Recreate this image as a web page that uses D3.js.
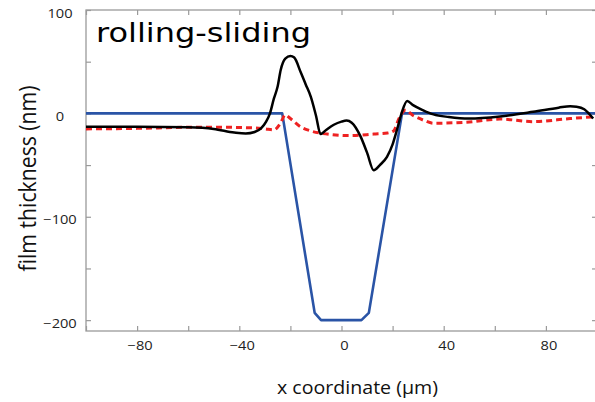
<!DOCTYPE html>
<html><head><meta charset="utf-8">
<script src="https://cdn.jsdelivr.net/npm/d3@7"></script>
<style>body{margin:0;background:#fff}svg{display:block}</style>
</head><body>
<svg id="c" width="595" height="402"></svg>
<script>
// ---- data ----
const blueX = [-100, -23.2, -10.5, -8, 7.8, 10.7, 23.7, 100];
const blueY = [0, 0, -193, -200, -200, -193, 0, 0];

const blackX = [-100, -80, -60, -50, -42, -37.5, -34, -31.5, -29.5, -28, -26.5, -25, -23.8, -22, -20, -18.5, -16, -14, -12, -10, -8.2, -6, -3, 0, 2, 4, 7.4, 10, 12.6, 15, 17.8, 20, 21.7, 23.5, 25.7, 28, 32, 36, 42, 50, 62, 75, 85, 89.5, 92, 95, 98.5];
const blackY = [-13, -13, -13.5, -15, -18.5, -19.5, -18, -14.5, -8, 0, 14, 26, 42, 53, 55.5, 54, 40, 28, 16, -2, -20, -16, -11, -8, -7, -9, -22, -38, -55, -50, -42, -30, -16, 0, 12, 8, 3, -1, -3.5, -5, -3, 1.5, 5.5, 7, 6.5, 4, -5];

const redX = [-100, -80, -60, -45, -35, -30, -26.5, -24, -22, -20, -16, -12, -5.6, 3.5, 12.6, 18, 20.4, 22.5, 25, 28, 32, 36, 49, 62, 75, 89.5, 98.6];
const redY = [-15, -14.5, -13.5, -13.5, -14, -15, -16, -10, -1.5, -5, -13, -17, -20, -21.5, -20, -19, -17, -5, 3, -2, -6.5, -9.5, -8.5, -5.5, -8, -5, -3.3];

const xTicks = [-100, -80, -60, -40, -20, 0, 20, 40, 60, 80, 100];
const xLabels = [-80, -40, 0, 40, 80];
const yTicks = [-200, -150, -100, -50, 0, 50, 100];
const yLabels = [-200, -100, 0, 100];

const title = "rolling-sliding";
const xTitle = "x coordinate (µm)";
const yTitle = "film thickness (nm)";

// ---- chart ----
const svg = d3.select("#c");
const L = 86, R = 597, T = 10, B = 331;
const x = d3.scaleLinear().domain([-100, 100]).range([L, R]);
const y = d3.scaleLinear().domain([-210.5, 100]).range([B, T]);
const fmt = v => (v < 0 ? "\u2212" + Math.abs(v) : String(v));
const axisCol = "#9a9a9a";
const FONT = "Open Sans, sans-serif";

svg.append("defs").append("clipPath").attr("id", "clip")
  .append("rect").attr("x", L).attr("y", T - 2).attr("width", R - L).attr("height", B - T + 4);

// frame
svg.append("rect").attr("x", L).attr("y", T).attr("width", R - L).attr("height", B - T)
  .attr("fill", "none").attr("stroke", axisCol).attr("stroke-width", 1.3);

// axes via d3
const axB = svg.append("g").attr("transform", `translate(0,${B})`)
  .call(d3.axisBottom(x).tickValues(xTicks).tickSize(-5).tickFormat(""));
const axT = svg.append("g").attr("transform", `translate(0,${T})`)
  .call(d3.axisTop(x).tickValues(xTicks).tickSize(-5).tickFormat(""));
const axL = svg.append("g").attr("transform", `translate(${L},0)`)
  .call(d3.axisLeft(y).tickValues(yTicks).tickSize(-5).tickFormat(""));
const axR = svg.append("g").attr("transform", `translate(${R},0)`)
  .call(d3.axisRight(y).tickValues(yTicks).tickSize(-5).tickFormat(""));
[axB, axT, axL, axR].forEach(g => {
  g.select(".domain").remove();
  g.selectAll(".tick line").attr("stroke", axisCol).attr("stroke-width", 1.2);
});

// tick labels (slightly widened like the reference)
svg.append("g").selectAll("text").data(xLabels).join("text")
  .attr("transform", d => `translate(${x(d) + 3},${B + 19}) scale(1.22,1)`)
  .attr("text-anchor", "middle").attr("font-family", FONT)
  .attr("font-size", 12).attr("fill", "#222").text(fmt);
svg.append("g").selectAll("text").data(yLabels).join("text")
  .attr("transform", d => `translate(60,${y(d) + 7.5}) scale(1.22,1)`)
  .attr("text-anchor", "middle").attr("font-family", FONT)
  .attr("font-size", 12).attr("fill", "#222").text(fmt);

// axis titles
svg.append("text").attr("x", 277).attr("y", 393.5)
  .attr("textLength", 161).attr("lengthAdjust", "spacingAndGlyphs")
  .attr("font-family", FONT).attr("font-size", 18).attr("fill", "#111").text(xTitle);
svg.append("text").attr("transform", "translate(36,178.5) rotate(-90) scale(1,1.1)")
  .attr("text-anchor", "middle").attr("textLength", 186).attr("lengthAdjust", "spacingAndGlyphs")
  .attr("font-family", FONT).attr("font-size", 21).attr("fill", "#111").text(yTitle);

// series
const plot = svg.append("g").attr("clip-path", "url(#clip)");
const lineLin = d3.line().x(d => x(d[0])).y(d => y(d[1]));
const lineSm = d3.line().x(d => x(d[0])).y(d => y(d[1])).curve(d3.curveMonotoneX);

plot.append("path").datum(blueX.map((v, i) => [v, blueY[i]]))
  .attr("d", lineLin).attr("fill", "none").attr("stroke", "#2a54a6").attr("stroke-width", 2.6)
  .attr("stroke-linejoin", "round");
plot.append("path").datum(redX.map((v, i) => [v, redY[i]]))
  .attr("d", lineSm).attr("fill", "none").attr("stroke", "#ee2222").attr("stroke-width", 3)
  .attr("stroke-dasharray", "6,4");
plot.append("path").datum(blackX.map((v, i) => [v, blackY[i]]))
  .attr("d", lineSm).attr("fill", "none").attr("stroke", "#000").attr("stroke-width", 2.5)
  .attr("stroke-linejoin", "round");

// title
svg.append("text").attr("x", 96).attr("y", 41.7)
  .attr("textLength", 215).attr("lengthAdjust", "spacingAndGlyphs")
  .attr("font-family", "DejaVu Sans, sans-serif").attr("font-size", 26).attr("fill", "#000").text(title);
</script>
</body></html>
